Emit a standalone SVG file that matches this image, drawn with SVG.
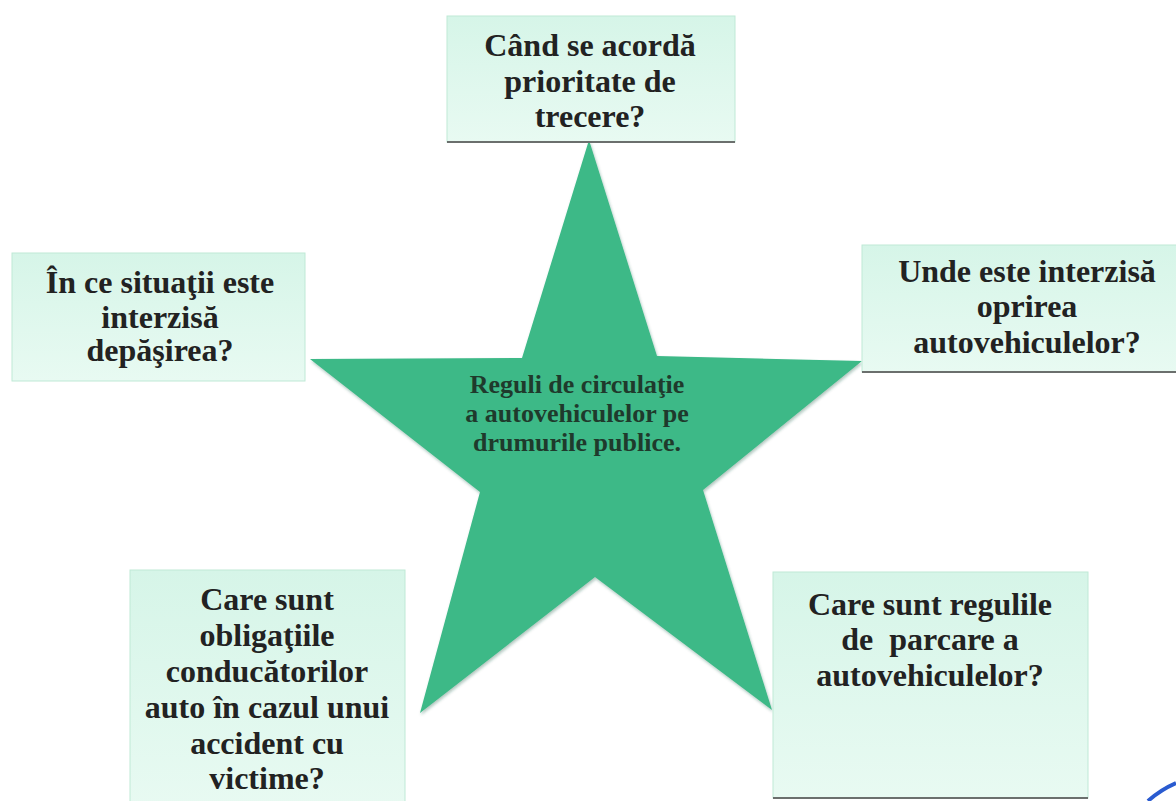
<svg xmlns="http://www.w3.org/2000/svg" width="1176" height="801" viewBox="0 0 1176 801">
<defs>
<linearGradient id="boxg" x1="0" y1="0" x2="0" y2="1">
<stop offset="0" stop-color="#d6f5e8"/>
<stop offset="1" stop-color="#e8faf2"/>
</linearGradient>
<filter id="sh" x="-5%" y="-5%" width="110%" height="110%">
<feDropShadow dx="1" dy="2" stdDeviation="1.5" flood-color="#1d5a40" flood-opacity="0.35"/>
</filter>
<style>
.box{fill:url(#boxg);stroke:#bfe9d6;stroke-width:1}
.base{stroke:#6b6f6d;stroke-width:2}
.q{font-family:"Liberation Serif","Times New Roman",serif;font-weight:bold;font-size:32px;fill:#222;text-anchor:middle}
.c{font-family:"Liberation Serif","Times New Roman",serif;font-weight:bold;font-size:26px;fill:#1f3a2c;text-anchor:middle}
</style>
</defs>
<rect width="1176" height="801" fill="#ffffff"/>

<g id="star">
<polygon points="589,140 522,358 310,359 480,492 420,713 595,577 772,710 703,490 862,361 657,356" fill="#3cb987" filter="url(#sh)"/>
<text class="c" x="577" y="393">Reguli de circulaţie</text>
<text class="c" x="577" y="422">a autovehiculelor pe</text>
<text class="c" x="577" y="451">drumurile publice.</text>
</g>

<g id="n-top">
<rect class="box" x="447" y="16" width="288" height="126"/>
<line class="base" x1="447" y1="142" x2="735" y2="142"/>
<text class="q" x="590" y="56">Când se acordă</text>
<text class="q" x="590" y="92">prioritate de</text>
<text class="q" x="590" y="127">trecere?</text>
</g>

<g id="n-left">
<rect class="box" x="12" y="253" width="293" height="128"/>
<text class="q" x="160" y="293">În ce situaţii este</text>
<text class="q" x="160" y="328">interzisă</text>
<text class="q" x="160" y="361">depăşirea?</text>
</g>

<g id="n-right">
<rect class="box" x="862" y="245" width="320" height="127"/>
<line class="base" x1="862" y1="372" x2="1176" y2="372"/>
<text class="q" x="1027" y="282">Unde este interzisă</text>
<text class="q" x="1027" y="317">oprirea</text>
<text class="q" x="1027" y="353">autovehiculelor?</text>
</g>

<g id="n-bottom-left">
<rect class="box" x="130" y="570" width="275" height="240"/>
<text class="q" x="267" y="610">Care sunt</text>
<text class="q" x="267" y="646">obligaţiile</text>
<text class="q" x="267" y="682">conducătorilor</text>
<text class="q" x="267" y="718">auto în cazul unui</text>
<text class="q" x="267" y="754">accident cu</text>
<text class="q" x="267" y="789">victime?</text>
</g>

<g id="n-bottom-right">
<rect class="box" x="773" y="572" width="315" height="226"/>
<line class="base" x1="773" y1="798" x2="1088" y2="798"/>
<text class="q" x="930" y="615">Care sunt regulile</text>
<text class="q" x="930" y="650" xml:space="preserve">de  parcare a</text>
<text class="q" x="930" y="686">autovehiculelor?</text>
</g>

<g id="connectors"></g>

<path d="M1148,801 Q1160,790 1176,783" fill="none" stroke="#2a5bd0" stroke-width="4"/>
</svg>
